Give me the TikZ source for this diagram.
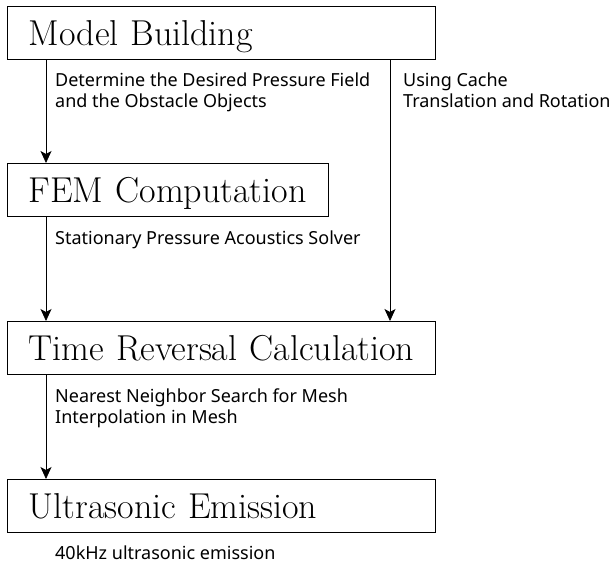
\documentclass[tikz,border=0pt]{standalone}
\usepackage{fontspec}
\newfontfamily\notefont{Noto Sans}
\usetikzlibrary{arrows.meta}

\begin{document}
\begin{tikzpicture}
	[x=1pt,y=-1pt,
	stage/.style={draw,line width=1.2pt,anchor=north west,align=left,
		inner xsep=21pt,inner ysep=0pt,minimum height=53pt,
		text height=25pt,text depth=0pt,font=\fontsize{36}{42}\selectfont},
	note/.style={anchor=base west,align=left,inner sep=0pt,
		font=\notefont\fontsize{18}{21}\selectfont},
	flow/.style={-{Stealth[length=12pt,width=11pt,inset=3pt]},line width=0.8pt}]
	\useasboundingbox (0,0) rectangle (613,565);
	% stages
	\node[stage,text width=386pt] (build) at (7,6) {Model Building};
	\node[stage,text width=279pt] (fem) at (7,163) {FEM Computation};
	\node[stage,text width=386pt] (trc) at (7,321) {Time Reversal Calculation};
	\node[stage,text width=386pt] (emit) at (7,479) {Ultrasonic Emission};
	% notes (base = last line)
	\node[note] (desired) at (55,107) {Determine the Desired Pressure Field\\and the Obstacle Objects};
	\node[note] (cache) at (403,107) {Using Cache\\Translation and Rotation};
	\node[note] (solver) at (55,244) {Stationary Pressure Acoustics Solver};
	\node[note] (search) at (55,423) {Nearest Neighbor Search for Mesh\\Interpolation in Mesh};
	\node[note] (freq) at (55,559) {40kHz ultrasonic emission};
	% arrows
	\coordinate (lx) at (46,0);
	\coordinate (rx) at (390,0);
	\path
	\foreach \startNode/\endNode in {build/fem,fem/trc,trc/emit}
	{
		(\startNode.south -| lx) edge[flow] (\endNode.north -| lx)
	};
	\path (build.south -| rx) edge[flow] (trc.north -| rx);
\end{tikzpicture}
\end{document}
